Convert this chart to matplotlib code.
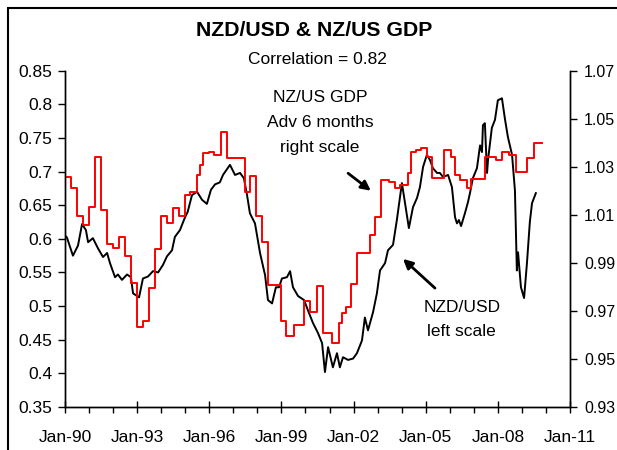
import matplotlib
matplotlib.use("Agg")
import matplotlib.pyplot as plt
from matplotlib.patches import Rectangle

plt.rcParams['font.family'] = ['Liberation Sans', 'DejaVu Sans']

# NZD/USD, left scale (decimal year, value)
nzd_year = [1990.0, 1990.08, 1990.33, 1990.54, 1990.71, 1990.87, 1990.96, 1991.16, 1991.37,
            1991.58, 1991.75, 1991.87, 1992.08, 1992.20, 1992.37, 1992.58, 1992.74, 1992.83,
            1993.08, 1993.24, 1993.45, 1993.66, 1993.87, 1994.07, 1994.24, 1994.45, 1994.57,
            1994.78, 1994.99, 1995.10, 1995.28, 1995.49, 1995.70, 1995.90, 1996.07, 1996.24,
            1996.44, 1996.57, 1996.86, 1997.07, 1997.28, 1997.44, 1997.57, 1997.69, 1997.90,
            1998.11, 1998.32, 1998.44, 1998.61, 1998.77, 1998.90, 1999.02, 1999.23, 1999.36,
            1999.48, 1999.69, 1999.94, 2000.10, 2000.31, 2000.52, 2000.69, 2000.81, 2000.94,
            2001.14, 2001.31, 2001.43, 2001.56, 2001.77, 2001.98, 2002.14, 2002.35, 2002.47,
            2002.60, 2002.81, 2002.97, 2003.10, 2003.31, 2003.43, 2003.64, 2003.80, 2004.01,
            2004.14, 2004.30, 2004.47, 2004.64, 2004.76, 2004.89, 2005.05, 2005.18, 2005.30,
            2005.47, 2005.59, 2005.72, 2005.93, 2006.09, 2006.22, 2006.30, 2006.38, 2006.47,
            2006.63, 2006.76, 2006.84, 2006.96, 2007.13, 2007.26, 2007.34, 2007.38, 2007.46,
            2007.55, 2007.59, 2007.75, 2007.88, 2008.00, 2008.17, 2008.30, 2008.42, 2008.59,
            2008.71, 2008.79, 2008.84, 2008.96, 2009.09, 2009.21, 2009.33, 2009.42, 2009.58]
nzd_value = [0.605, 0.602, 0.575, 0.590, 0.622, 0.613, 0.595, 0.601, 0.586,
             0.573, 0.579, 0.564, 0.543, 0.547, 0.539, 0.547, 0.543, 0.519,
             0.513, 0.541, 0.544, 0.552, 0.550, 0.561, 0.574, 0.583, 0.603,
             0.613, 0.632, 0.640, 0.665, 0.670, 0.658, 0.652, 0.673, 0.681,
             0.684, 0.695, 0.710, 0.695, 0.698, 0.690, 0.665, 0.638, 0.623,
             0.579, 0.546, 0.509, 0.504, 0.528, 0.528, 0.541, 0.543, 0.552,
             0.528, 0.515, 0.509, 0.494, 0.475, 0.460, 0.445, 0.402, 0.439,
             0.409, 0.430, 0.409, 0.424, 0.420, 0.422, 0.430, 0.449, 0.483,
             0.464, 0.491, 0.519, 0.553, 0.564, 0.583, 0.591, 0.628, 0.683,
             0.653, 0.616, 0.647, 0.661, 0.677, 0.707, 0.725, 0.717, 0.705,
             0.698, 0.698, 0.692, 0.695, 0.677, 0.632, 0.623, 0.628, 0.619,
             0.638, 0.655, 0.668, 0.690, 0.705, 0.739, 0.729, 0.769, 0.772,
             0.698, 0.717, 0.765, 0.777, 0.806, 0.809, 0.777, 0.751, 0.725,
             0.672, 0.553, 0.580, 0.528, 0.512, 0.564, 0.625, 0.653, 0.668]

# NZ/US GDP advanced 6 months, right scale (step start, value)
gdp_year = [1990.0, 1990.25, 1990.50, 1990.75, 1991.00, 1991.25, 1991.50, 1991.75, 1992.0,
            1992.25, 1992.50, 1992.75, 1993.0, 1993.25, 1993.50, 1993.75, 1994.0, 1994.25,
            1994.50, 1994.75, 1995.0, 1995.20, 1995.50, 1995.62, 1995.74, 1996.0, 1996.20,
            1996.50, 1996.74, 1997.48, 1997.69, 1997.94, 1998.19, 1998.44, 1998.98, 1999.19,
            1999.52, 1999.94, 2000.19, 2000.48, 2000.73, 2001.10, 2001.39, 2001.52, 2001.68,
            2001.89, 2002.14, 2002.68, 2002.89, 2003.14, 2003.47, 2003.72, 2003.93, 2004.26,
            2004.39, 2004.59, 2004.80, 2005.05, 2005.26, 2005.76, 2006.05, 2006.22, 2006.42,
            2006.72, 2006.88, 2007.46, 2007.92, 2008.17, 2008.46, 2008.75, 2009.21, 2009.50,
            2009.83]
gdp_value = [1.0257, 1.0211, 1.0095, 1.0057, 1.0132, 1.0340, 1.0120, 0.9978, 0.9961,
             1.0007, 0.9928, 0.9815, 0.9632, 0.9657, 0.9795, 0.9957, 1.0095, 1.0065,
             1.0128, 1.0095, 1.0182, 1.0195, 1.0265, 1.0307, 1.0357, 1.0361, 1.0349,
             1.0445, 1.0336, 1.0195, 1.0261, 1.0095, 0.9986, 0.9807, 0.9657, 0.9595,
             0.9640, 0.9740, 0.9695, 0.9803, 0.9607, 0.9565, 0.9649, 0.9690, 0.9715,
             0.9811, 0.9940, 1.0015, 1.0090, 1.0245, 1.0236, 1.0211, 1.0224, 1.0274,
             1.0361, 1.0370, 1.0378, 1.0340, 1.0253, 1.0370, 1.0340, 1.0265, 1.0244,
             1.0211, 1.0249, 1.0340, 1.0328, 1.0361, 1.0349, 1.0278, 1.0336, 1.0399,
             1.0399]

left_ticks = [0.35, 0.4, 0.45, 0.5, 0.55, 0.6, 0.65, 0.7, 0.75, 0.8, 0.85]
right_ticks = [0.93, 0.95, 0.97, 0.99, 1.01, 1.03, 1.05, 1.07]
year_ticks = [1990, 1993, 1996, 1999, 2002, 2005, 2008, 2011]
year_labels = ['Jan-90', 'Jan-93', 'Jan-96', 'Jan-99', 'Jan-02', 'Jan-05', 'Jan-08', 'Jan-11']

fig = plt.figure(figsize=(6.17, 4.5), dpi=100)
ax = fig.add_axes([65/617, 1-407/450, 505/617, 336.3/450])
ax2 = ax.twinx()

ax.plot(nzd_year, nzd_value, color='black', lw=1.4)
ax2.plot(gdp_year, gdp_value, color='red', lw=1.4, drawstyle='steps-post')

ax.set_xlim(1990, 2011)
ax.set_ylim(0.35, 0.85)
ax2.set_ylim(0.93, 1.07)

ax.set_xticks(year_ticks)
ax.set_xticklabels(year_labels)
ax.set_xticks(range(1990, 2012), minor=True)
ax.set_yticks(left_ticks)
ax.set_yticklabels(['%g' % v for v in left_ticks])
ax2.set_yticks(right_ticks)
ax2.set_yticklabels(['%g' % v for v in right_ticks])

ax.tick_params(axis='x', which='major', direction='inout', length=9, width=1, pad=12, labelsize=12.5)
ax.tick_params(axis='x', which='minor', direction='out', length=4, width=1)
ax.tick_params(axis='y', direction='out', length=5, width=1, labelsize=12.5, pad=4)
ax2.tick_params(axis='y', direction='out', length=5, width=1, labelsize=11.5, pad=5)

for a in (ax, ax2):
    a.spines['top'].set_visible(False)
    for s in ('left', 'right', 'bottom'):
        a.spines[s].set_color('black')
        a.spines[s].set_linewidth(1)

fig.text(314/617, 1-31/450, 'NZD/USD & NZ/US GDP', ha='center', va='center',
         fontsize=15.3, fontweight='bold')
fig.text(317/617, 1-60/450, 'Correlation = 0.82', ha='center', va='center', fontsize=12.5)

ax.annotate('', xy=(2002.81, 0.669), xytext=(2001.68, 0.700),
            arrowprops=dict(arrowstyle='-|>', color='black', lw=2, mutation_scale=14))
ax.annotate('', xy=(2003.97, 0.573), xytext=(2005.47, 0.524),
            arrowprops=dict(arrowstyle='-|>', color='black', lw=2, mutation_scale=14))
ax.text(2000.6, 0.773, 'NZ/US GDP\nAdv 6 months\nright scale', ha='center', va='center',
        fontsize=12.5, linespacing=1.8)
ax.text(2006.5, 0.480, 'NZD/USD\nleft scale', ha='center', va='center',
        fontsize=12.5, linespacing=1.8)

# chart border, cut off at the right and bottom
fig.patches.append(Rectangle((8/617, -0.1), 1.0, 1-8/450+0.1, transform=fig.transFigure,
                             fill=False, edgecolor='black', lw=1.5))

fig.savefig('out.png', dpi=100)
